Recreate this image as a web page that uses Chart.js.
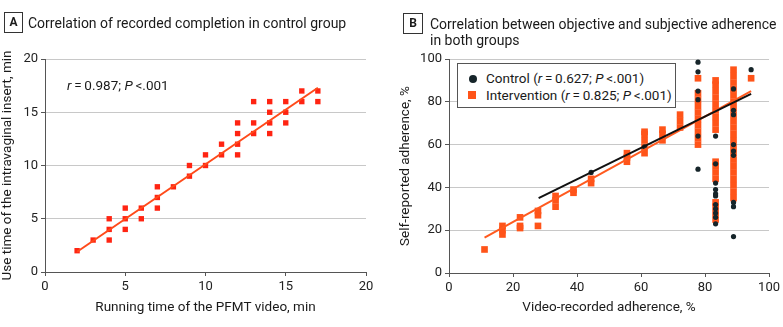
<!DOCTYPE html>
<html>
<head>
<meta charset="utf-8">
<title>Objective vs subjective adherence</title>
<script src="https://cdn.jsdelivr.net/npm/chart.js@4.4.1/dist/chart.umd.min.js"></script>
<style>
  body { margin: 0; background: #fff; font-family: Roboto, "Liberation Sans", sans-serif; color: #1a1a1a; }
  #fig { position: relative; width: 783px; height: 327px; overflow: hidden; }
  .panel { position: absolute; top: 0; height: 327px; }
  #panelA { left: 0; width: 390px; }
  #panelB { left: 390px; width: 393px; }
  .panel canvas { position: absolute; left: 0; top: 0; }
  .tag { position: absolute; box-sizing: border-box; border: 1px solid #333; font-weight: bold; font-size: 12px; line-height: 19px; text-align: center; }
  .head { position: absolute; font-size: 14px; line-height: 16px; white-space: nowrap; }
  .note { position: absolute; font-size: 13.5px; line-height: 16px; white-space: nowrap; }
  .legend { position: absolute; box-sizing: border-box; border: 1px solid #555; background: #fff; }
  .row { position: absolute; left: 28px; font-size: 13.5px; line-height: 16px; white-space: nowrap; }
  .dot { position: absolute; width: 8px; height: 8px; border-radius: 50%; background: #16252a; }
  .sq { position: absolute; width: 8px; height: 8px; background: #ff5419; }
</style>
</head>
<body>
<div id="fig">
  <div class="panel" id="panelA">
    <canvas id="chartA" width="390" height="327"></canvas>
    <div class="tag" style="left:4px; top:12px; width:19px; height:21px;">A</div>
    <div class="head" style="left:28px; top:15px;">Correlation of recorded completion in control group</div>
    <div class="note" style="left:67px; top:77px;"><i>r</i>&thinsp;=&thinsp;0.987; <i>P</i>&thinsp;&lt;.001</div>
  </div>
  <div class="panel" id="panelB">
    <canvas id="chartB" width="393" height="327"></canvas>
    <div class="tag" style="left:13px; top:13px; width:20px; height:21px;">B</div>
    <div class="head" style="left:40px; top:16px;">Correlation between objective and subjective adherence<br>in both groups</div>
    <div class="legend" style="left:67px; top:63px; width:219px; height:45px;">
      <div class="dot" style="left:11px; top:11px;"></div>
      <div class="row" style="top:6px;">Control (<i>r</i>&thinsp;=&thinsp;0.627; <i>P</i>&thinsp;&lt;.001)</div>
      <div class="sq" style="left:10px; top:27px;"></div>
      <div class="row" style="top:23px;">Intervention (<i>r</i>&thinsp;=&thinsp;0.825; <i>P</i>&thinsp;&lt;.001)</div>
    </div>
  </div>
</div>
<script>
// -------------------- Panel A: control group, minutes --------------------
const runTimeA = [2, 3, 4, 5, 6, 7, 8, 9, 10, 11, 12, 13, 14, 15, 16, 17];
const useTimeA = [
    [2], [3], [3, 4, 5], [4, 5, 6], [5, 6], [6, 7, 8], [8], [9, 10],
    [10, 11], [11, 12], [11, 12, 13, 14], [13, 14, 16], [13, 14, 15, 16],
    [14, 15, 16], [16, 17], [16, 17]
];
const fitAx = [2, 17];
const fitAy = [1.9, 17.3];

// -------------------- Panel B: both groups, % --------------------
const videoPct = [11.1, 16.7, 22.2, 27.8, 33.3, 38.9, 44.4, 55.6, 61.1, 66.7, 72.2, 77.8, 83.3, 88.9, 94.4];
const interventionSelf = [
    [11], [18, 20, 22], [21, 22, 26], [22, 27, 29], [31, 34, 36], [37.5, 39], [42, 44],
    [52, 54, 56], [56, 59, 62, 65, 66], [62, 65, 67], [68, 71, 74],
    [60, 63, 66, 69, 72, 75, 78, 81, 84, 91],
    [25, 28, 31, 33, 44, 47, 50, 52, 67, 70, 73, 76, 79, 82, 85, 88, 90],
    [35, 38, 41, 44, 47, 50, 53, 56, 59, 62, 65, 68, 71, 74, 77, 80, 83, 86, 89, 92, 95],
    [91]
];
const controlSelf = [
    [], [], [], [], [], [], [47], [], [59], [], [],
    [48.5, 64, 81, 85, 94, 98.5],
    [23, 26, 28, 30, 32, 36, 37, 39, 42, 51, 64],
    [17, 31, 33, 55, 57, 60, 74, 76, 86],
    [95]
];
const ctrlFitX = [28, 94.4];
const ctrlFitY = [35, 83.7];
const intvFitX = [11.1, 94.4];
const intvFitY = [16.5, 85];

// -------------------- Helpers --------------------
const AXIS = '#555';
const GRID = '#c8c8c8';

function toPoints(xs, groups) {
    const pts = [];
    xs.forEach((x, i) => groups[i].forEach(y => pts.push({ x, y })));
    return pts;
}

function pairPoints(xs, ys) {
    return xs.map((x, i) => ({ x, y: ys[i] }));
}

function makeAxis(max, step, title, vertical, titlePad, size) {
    return {
        type: 'linear', min: 0, max,
        ticks: { stepSize: step, color: '#222', font: { family: 'Roboto', size: 13 }, padding: 3 },
        grid: {
            drawOnChartArea: vertical,
            color: ctx => (ctx.tick && ctx.tick.value === 0) ? 'rgba(0,0,0,0)' : GRID,
            tickColor: AXIS, tickLength: 4
        },
        border: { color: AXIS, width: 1 },
        title: { display: true, text: title, color: '#1a1a1a', font: { family: 'Roboto', size: 13.5 }, padding: titlePad },
        afterFit: s => { if (vertical) s.width = size; else s.height = size; }
    };
}

const baseOpts = {
    responsive: false,
    animation: false,
    plugins: { legend: { display: false }, tooltip: { enabled: false } }
};

// -------------------- Chart A --------------------
new Chart(document.getElementById('chartA'), {
    type: 'scatter',
    data: {
        datasets: [
            { data: pairPoints(fitAx, fitAy), showLine: true, borderColor: '#ff4a1a', borderWidth: 2, pointRadius: 0 },
            { data: toPoints(runTimeA, useTimeA), pointStyle: 'rect', pointRadius: 3.8, backgroundColor: '#ff2412', borderWidth: 0 }
        ]
    },
    options: {
        ...baseOpts,
        layout: { padding: { top: 59, right: 24, left: 0, bottom: 0 } },
        scales: {
            x: makeAxis(20, 5, 'Running time of the PFMT video, min', false, { top: 0, bottom: 11 }, 55),
            y: makeAxis(20, 5, 'Use time of the intravaginal insert, min', true, { top: 0, bottom: 0 }, 45)
        }
    }
});

// -------------------- Chart B --------------------
new Chart(document.getElementById('chartB'), {
    type: 'scatter',
    data: {
        datasets: [
            { data: pairPoints(ctrlFitX, ctrlFitY), showLine: true, borderColor: '#111', borderWidth: 2, pointRadius: 0 },
            { data: pairPoints(intvFitX, intvFitY), showLine: true, borderColor: '#ff5a1f', borderWidth: 2, pointRadius: 0 },
            { data: toPoints(videoPct, controlSelf), pointStyle: 'circle', pointRadius: 2.6, backgroundColor: '#16252a', borderWidth: 0 },
            { data: toPoints(videoPct, interventionSelf), pointStyle: 'rect', pointRadius: 4.7, backgroundColor: '#ff5419', borderWidth: 0 }
        ]
    },
    options: {
        ...baseOpts,
        layout: { padding: { top: 59, right: 12, left: 0, bottom: 0 } },
        scales: {
            x: makeAxis(100, 20, 'Video-recorded adherence, %', false, { top: 0, bottom: 11 }, 54),
            y: makeAxis(100, 20, 'Self-reported adherence, %', true, { top: 8, bottom: 0 }, 59)
        }
    }
});
</script>
</body>
</html>
